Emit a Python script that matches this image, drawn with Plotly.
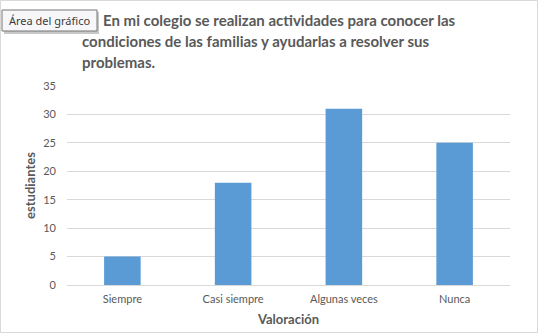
import plotly.graph_objects as go

categorias = ["Siempre", "Casi siempre", "Algunas veces", "Nunca"]
estudiantes = [5, 18, 31, 25]
ticks_y = [0, 5, 10, 15, 20, 25, 30, 35]

titulo_lineas = [
    "En mi colegio se realizan actividades para conocer las",
    "condiciones de las familias y ayudarlas a resolver sus",
    "problemas.",
]

FONT = "Lato"
GRIS = "#595959"

fig = go.Figure(
    go.Bar(
        x=categorias,
        y=estudiantes,
        marker=dict(color="#5B9BD5", line=dict(width=0)),
        width=0.33,
    )
)

W, H = 538, 335
fig.update_layout(
    width=W,
    height=H,
    margin=dict(l=67, r=28, t=86, b=50),
    paper_bgcolor="white",
    plot_bgcolor="white",
    showlegend=False,
    font=dict(family=FONT, color=GRIS, size=11),
    bargap=0.67,
)

fig.update_xaxes(
    showline=True,
    linecolor="#D9D9D9",
    linewidth=1,
    ticks="",
    ticklabelstandoff=4,
    tickfont=dict(size=11, color=GRIS),
    title=dict(text="<b>Valoración</b>", font=dict(size=13, color=GRIS), standoff=10),
    fixedrange=True,
)
fig.update_yaxes(
    range=[0, 35],
    tickvals=ticks_y,
    showgrid=True,
    gridcolor="#D9D9D9",
    gridwidth=1,
    zeroline=False,
    showline=False,
    ticks="",
    ticklabelstandoff=10,
    tickfont=dict(size=11, color=GRIS),
    title=dict(text="<b>estudiantes</b>", font=dict(size=13, color=GRIS), standoff=4),
    fixedrange=True,
)

# Title, one annotation per line
posiciones = [(101, 20), (80, 41), (80, 62)]
for texto, (px, py) in zip(titulo_lineas, posiciones):
    fig.add_annotation(
        text=f"<b>{texto}</b>",
        xref="paper", yref="paper",
        x=(px - 67) / (W - 67 - 28),
        y=1 + (86 - py) / (H - 86 - 50),
        xanchor="left", yanchor="middle",
        showarrow=False,
        font=dict(family=FONT, size=15, color=GRIS),
    )

# Outer border of the chart area
fig.add_shape(
    type="rect", xref="paper", yref="paper",
    x0=-67 / (W - 95) + 0.5 / (W - 95), x1=1 + 27.5 / (W - 95),
    y0=-50 / (H - 136) + 2.5 / (H - 136), y1=1 + 85.5 / (H - 136),
    line=dict(color="#D9D9D9", width=1), fillcolor="rgba(0,0,0,0)", layer="below",
)

# Hover tooltip box
def px_x(v):
    return (v - 67) / (W - 95)

def px_y(v):
    return 1 + (86 - v) / (H - 136)

fig.add_shape(
    type="rect", xref="paper", yref="paper",
    x0=px_x(4), x1=px_x(99), y0=px_y(34), y1=px_y(12),
    line=dict(width=0), fillcolor="#C8C8C8",
)
fig.add_shape(
    type="rect", xref="paper", yref="paper",
    x0=px_x(2), x1=px_x(97), y0=px_y(31), y1=px_y(10),
    line=dict(color="#767676", width=1), fillcolor="#F7F7F9",
)
fig.add_annotation(
    text="Área del gráfico",
    xref="paper", yref="paper",
    x=px_x(49.5), y=px_y(20.5),
    xanchor="center", yanchor="middle",
    showarrow=False,
    font=dict(family="Noto Sans", size=11, color="#3C3C3C"),
)

fig.write_html("out.html")
